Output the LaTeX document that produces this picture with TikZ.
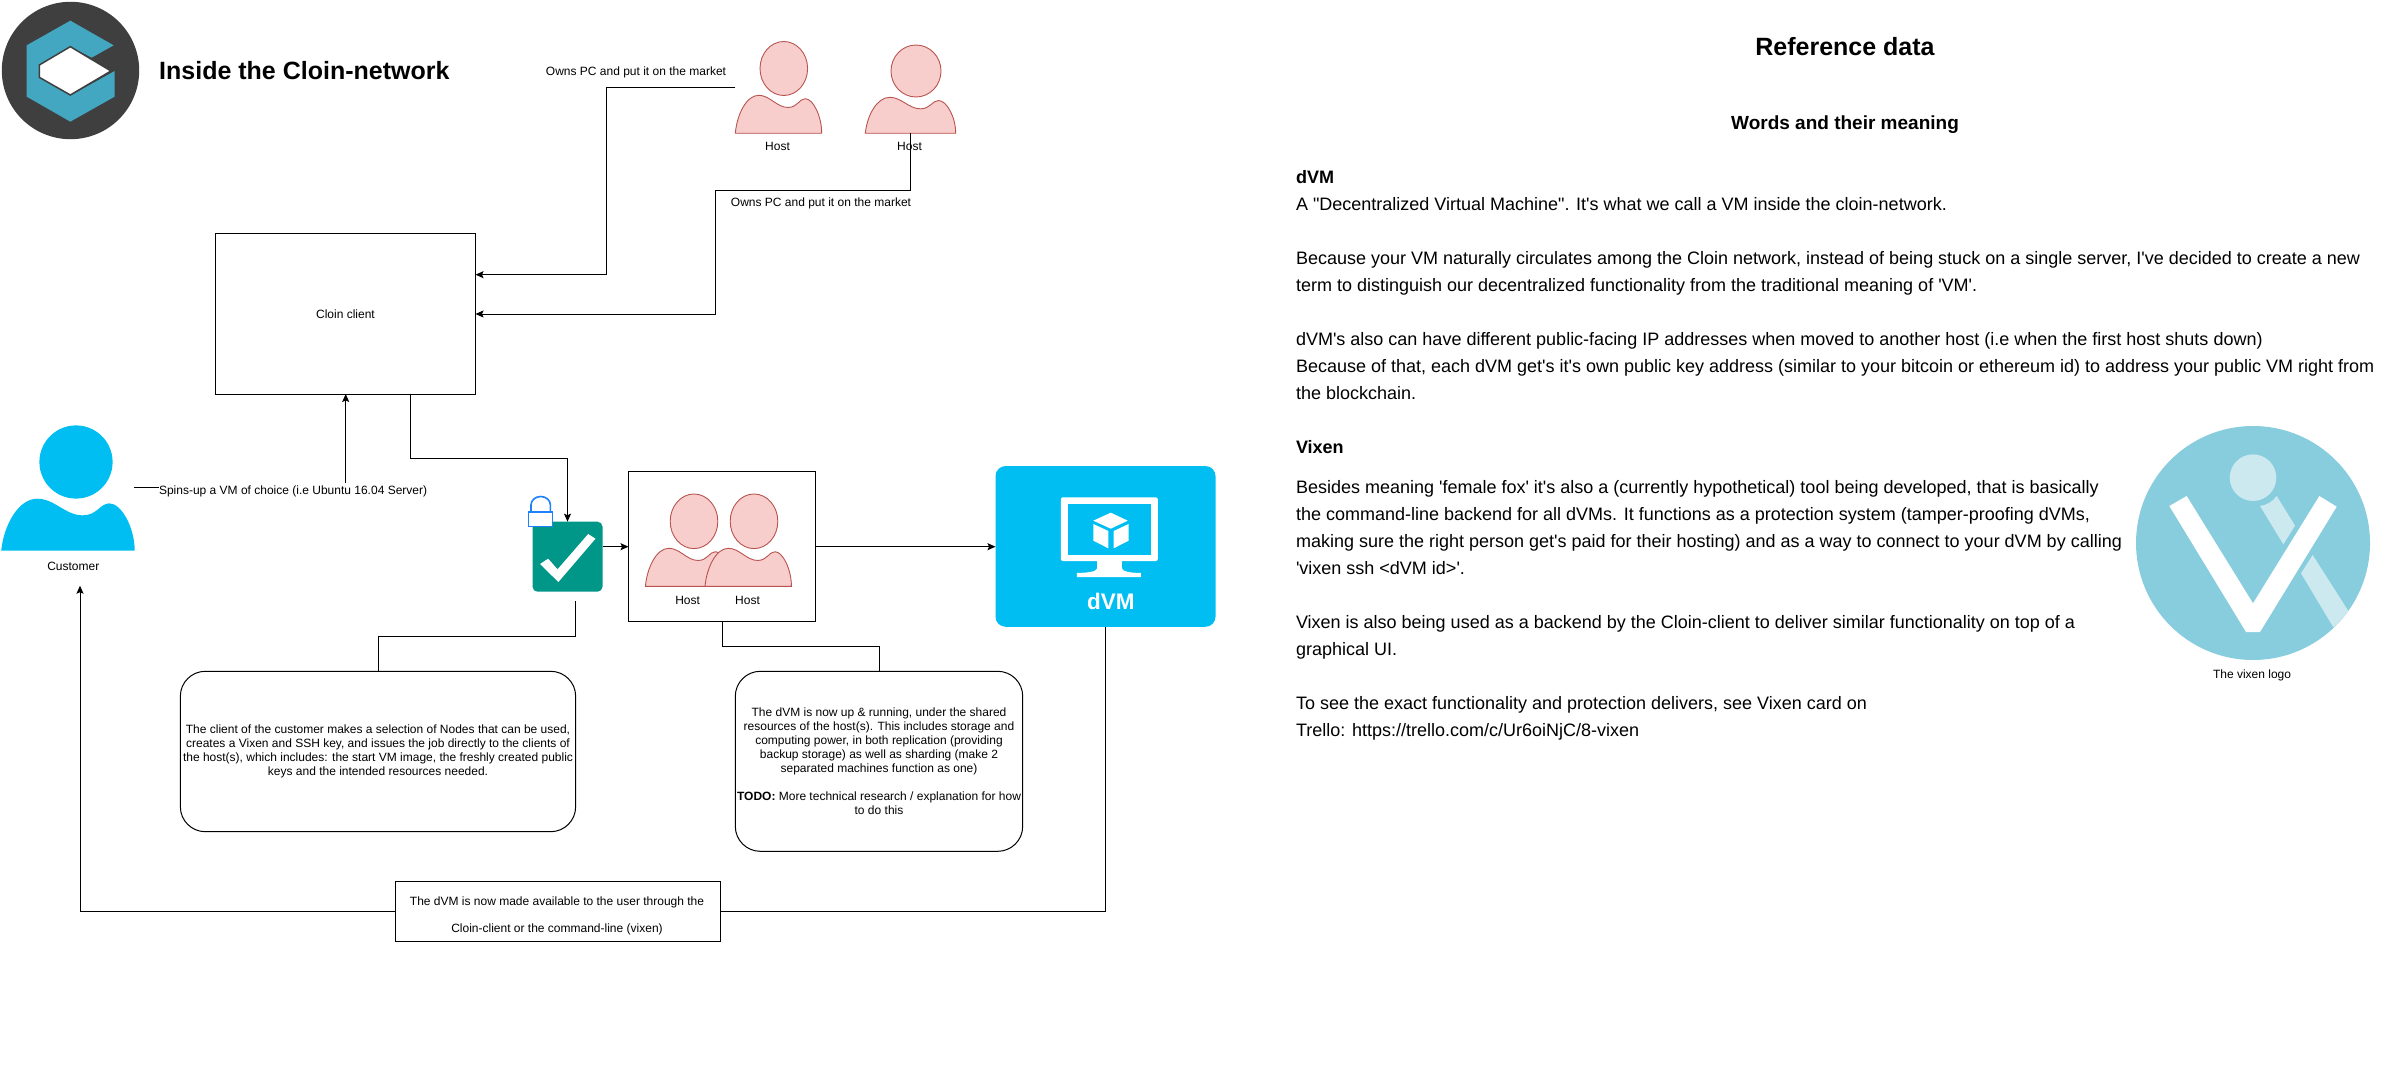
\documentclass[tikz,border=0pt]{standalone}
\usepackage{fontspec}
\setmainfont{Liberation Sans}[Ligatures=TeXOff]
\usetikzlibrary{arrows.meta}
\definecolor{dark}{HTML}{3F3F3F}
\definecolor{teal1}{HTML}{43A7C1}
\definecolor{rosefill}{HTML}{F8CECC}
\definecolor{rosedraw}{HTML}{B85450}
\definecolor{skyb}{HTML}{00BEF2}
\definecolor{greenb}{HTML}{009688}
\definecolor{lockb}{HTML}{1E82FF}
\definecolor{vix}{HTML}{88CDDE}
\definecolor{vixl}{HTML}{CDE9F0}
\newcommand{\smalltxt}{\fontsize{12}{14}\selectfont}
\newcommand{\bodytxt}{\fontsize{18}{27}\selectfont}
\newcommand{\personbody}[6]{%
 \begin{scope}[shift={(#1,#2)},x=#3pt,y=-#4pt]
 \path[#5] (0,1) .. controls (0.02,0.5) and (0.13,0) .. (0.27,0) .. controls (0.4,0) and (0.48,0.32) .. (0.61,0.32) .. controls (0.72,0.32) and (0.74,0.09) .. (0.81,0.09) .. controls (0.9,0.09) and (1,0.55) .. (1,1) -- cycle;
 \end{scope}}
\tikzset{
 x=1pt,y=-1pt,
 conn/.style={draw=black,line width=1pt,line join=miter},
 arr/.style={conn,-{Stealth[length=8pt,width=7pt,inset=1.5pt]}},
 rose/.style={fill=rosefill,draw=rosedraw,line width=0.9pt},
 sky/.style={fill=skyb,draw=none},
 holder/.style={inner sep=0,outer sep=0,minimum width=#1},
 boxn/.style={draw=black,line width=1pt,fill=white,inner sep=0,outer sep=0,align=center,font=\smalltxt},
 rbox/.style={boxn,rounded corners=25pt},
 lab/.style={inner sep=0,outer sep=0,anchor=base,yshift=-4pt,font=\smalltxt},
 bt/.style={inner sep=0,outer sep=0,anchor=base west,yshift=-6.5pt,font=\bodytxt},
 bth/.style={bt,font=\bodytxt\bfseries},
}
\begin{document}
\begin{tikzpicture}
\useasboundingbox (0,0) rectangle (2397,1083);
% ---- Cloin logo
\fill[dark] (70.5,70.5) circle[radius=68.7pt];
\begin{scope}[x=0.33333pt,y=-0.33333pt]
\fill[teal1] (211,62)--(341,136)--(275,173)--(211,140)--(117,195)--(117,232)--(211,287)--(344,213)--(344,290)--(211,365)--(80,290)--(80,136)--cycle;
\filldraw[fill=white,draw=dark,line width=1.5pt] (211,140)--(333,213)--(211,285)--(118,232)--(118,195)--cycle;
\end{scope}
\node[inner sep=0,anchor=base west,font=\fontsize{25}{30}\selectfont\bfseries] (title) at (159,79.5) {Inside the Cloin-network};
% ---- Top hosts
\node[holder=86.4pt,minimum height=38pt] (hostA) at (778.5,114.3) {};
\node[holder=90.4pt,minimum height=36pt] (hostB) at (910.5,115.3) {};
\personbody{735.3}{95.3}{86.4}{38}{rose}{}
\filldraw[rose] (783.8,68.5) ellipse[x radius=23.8pt,y radius=27pt];
\personbody{865.3}{97.3}{90.4}{36}{rose}{}
\filldraw[rose] (916,71) ellipse[x radius=25pt,y radius=26pt];
\node[lab] (hostAl) at (777.5,147) {Host};
\node[lab] (hostBl) at (909.5,147) {Host};
\node[lab] (ownsA) at (636,72) {Owns PC and put it on the market};
\node[lab] (ownsB) at (821,203) {Owns PC and put it on the market};
% ---- Client
\node[boxn,minimum width=260pt,minimum height=160pt] (client) at (345.5,314) {Cloin client};
% ---- Customer
\node[holder=133.5pt,minimum height=52pt] (cust) at (68,524.7) {};
\personbody{1.2}{498.7}{133.5}{52}{sky}{}
\fill[skyb] (76,462) ellipse[x radius=36.6pt,y radius=36.6pt];
\node[lab] (custl) at (73.3,566) {Customer};
\node[lab,anchor=base west] (spin) at (159,490) {Spins-up a VM of choice (i.e Ubuntu 16.04 Server)};
% ---- Green check
\node[fill=greenb,rounded corners=5pt,inner sep=0,outer sep=0,minimum width=70pt,minimum height=70pt] (check) at (567.5,556.7) {};
\begin{scope}[shift={(0,400)},x=0.40816pt,y=-0.33333pt]
\fill[white] (1323,492)--(1343,476)--(1366,508)--(1441,402)--(1459,416)--(1368,546)--cycle;
\end{scope}
\draw[lockb,line width=1.6pt] (531,512) -- (531,505) arc[start angle=180,end angle=0,x radius=9.7pt,y radius=8.5pt] -- (550.4,512);
\filldraw[draw=lockb,fill=white,line width=1.6pt] (528.3,511.8) rectangle (552.4,526.3);
% ---- Hosts box
\node[boxn,minimum width=187pt,minimum height=150pt] (hosts) at (722,546.7) {};
\personbody{645.4}{548.3}{86.4}{38}{rose}{}
\filldraw[rose] (694,521.3) ellipse[x radius=23.8pt,y radius=27.3pt];
\personbody{705}{548.3}{86.4}{38}{rose}{}
\filldraw[rose] (754,521.3) ellipse[x radius=23.8pt,y radius=27.3pt];
\node[lab] (hl1) at (687.6,600) {Host};
\node[lab] (hl2) at (747.5,600) {Host};
% ---- dVM
\node[fill=skyb,rounded corners=10pt,inner sep=0,outer sep=0,minimum width=220pt,minimum height=160.7pt] (dvm) at (1105.5,546.4) {};
\begin{scope}[shift={(500,450)},x=0.48473pt,y=-0.33333pt]
\fill[white,rounded corners=2pt] (1157,142) rectangle (1357,333);
\fill[skyb] (1172,162) rectangle (1342,315);
\fill[white] (1232,330)--(1283,330)--(1283,355) .. controls (1285,366) and (1300,368) .. (1322,369)--(1322,381)--(1190,381)--(1190,369) .. controls (1212,368) and (1230,366) .. (1232,355)--cycle;
\fill[white] (1260,188)--(1295,212)--(1260,236)--(1224,212)--cycle;
\fill[white] (1224,222)--(1255,243)--(1255,295)--(1224,272)--cycle;
\fill[white] (1297,222)--(1266,243)--(1266,295)--(1297,272)--cycle;
\end{scope}
\node[lab,yshift=-4pt,text=white,font=\fontsize{22.5}{26}\selectfont\bfseries] (dvml) at (1110.8,601.5) {dVM};
% ---- Text boxes
\node[rbox,minimum width=395.3pt,minimum height=160.4pt] (job) at (378,751.5) {The client of the customer makes a selection of Nodes that can be used,\\creates a Vixen and SSH key, and issues the job directly to the clients of\\the host(s), which includes: the start VM image, the freshly created public\\keys and the intended resources needed.};
\node[rbox,minimum width=287.4pt,minimum height=180pt] (run) at (879,761.3) {The dVM is now up \& running, under the shared\\resources of the host(s). This includes storage and\\computing power, in both replication (providing\\backup storage) as well as sharding (make 2\\separated machines function as one)\\[14pt]\textbf{TODO:} More technical research / explanation for how\\to do this};
\node[boxn,minimum width=325.3pt,minimum height=60pt] (avail) at (558.2,911.3) {};
\node[lab] (av1) at (557,901) {The dVM is now made available to the user through the};
\node[lab] (av2) at (557,928) {Cloin-client or the command-line (vixen)};
% ---- Connector helpers
\coordinate (custout) at (134,487.7);
\coordinate (spinin) at (159,487.7);
\coordinate (spinend) at (345.7,483);
\coordinate (hostAout) at (735.3,87.7);
\coordinate (hostAin) at (475.5,274.7);
\coordinate (custin) at (80,585.7);
\coordinate (checkout) at (575.5,601.3);
\coordinate (clientdown) at (410,394);
\coordinate (hostsdown) at (722.5,621.7);
% ---- Connectors
\draw[arr] (hostAout) -- (606,87.7) -- (606,274.7) -- (hostAin);
\draw[arr] (hostB.south) -- (910.5,191) -- (715,191) -- (715,314) -- (client.east);
\draw[conn] (custout) -- (spinin);
\draw[arr] (spinend) -- (client.south -| spinend);
\draw[arr] (clientdown) -- (410,458.3) -- (567.5,458.3) -- (check.north);
\draw[arr] (check.east |- hosts.west) -- (hosts.west);
\draw[arr] (hosts.east) -- (hosts.east -| dvm.west);
\draw[conn] (checkout) -- (575.5,636) -- (378,636) -- (job.north);
\draw[conn] (hostsdown) -- (722.5,646.3) -- (879,646.3) -- (run.north);
\draw[conn] (dvm.south) -- (1105.5,911.3) -- (avail.east);
\draw[arr] (avail.west) -- (80,911.3) -- (custin);
% ---- Right panel
\node[inner sep=0,anchor=base,font=\fontsize{25}{30}\selectfont\bfseries] (rd) at (1845,55.5) {Reference data};
\node[inner sep=0,anchor=base,font=\fontsize{19}{24}\selectfont\bfseries] (wm) at (1845,129.5) {Words and their meaning};
\node[bth] (l1) at (1296,177) {dVM};
\node[bt] (l2) at (1296,204) {A "Decentralized Virtual Machine". It's what we call a VM inside the cloin-network.};
\node[bt] (l3) at (1296,258) {Because your VM naturally circulates among the Cloin network, instead of being stuck on a single server, I've decided to create a new};
\node[bt] (l4) at (1296,285) {term to distinguish our decentralized functionality from the traditional meaning of 'VM'.};
\node[bt] (l5) at (1296,339) {dVM's also can have different public-facing IP addresses when moved to another host (i.e when the first host shuts down)};
\node[bt] (l6) at (1296,366) {Because of that, each dVM get's it's own public key address (similar to your bitcoin or ethereum id) to address your public VM right from};
\node[bt] (l7) at (1296,393) {the blockchain.};
\node[bth] (v0) at (1296,446.7) {Vixen};
\node[bt] (v1) at (1296,487) {Besides meaning 'female fox' it's also a (currently hypothetical) tool being developed, that is basically};
\node[bt] (v2) at (1296,514) {the command-line backend for all dVMs. It functions as a protection system (tamper-proofing dVMs,};
\node[bt] (v3) at (1296,541) {making sure the right person get's paid for their hosting) and as a way to connect to your dVM by calling};
\node[bt] (v4) at (1296,568) {'vixen ssh <dVM id>'.};
\node[bt] (v5) at (1296,622) {Vixen is also being used as a backend by the Cloin-client to deliver similar functionality on top of a};
\node[bt] (v6) at (1296,649) {graphical UI.};
\node[bt] (v7) at (1296,703) {To see the exact functionality and protection delivers, see Vixen card on};
\node[bt] (v8) at (1296,730) {Trello: https://trello.com/c/Ur6oiNjC/8-vixen};
% ---- Vixen logo
\fill[vix] (2253,543) circle[radius=117pt];
\begin{scope}[shift={(2100,410)},x=0.33333pt,y=-0.33333pt]
\fill[vixl] (459,203) circle[radius=23.3pt];
\fill[vixl] (480,288) .. controls (500,285) and (518,275) .. (530,258)--(585,347)--(550,403)--cycle;
\fill[vixl] (603,490)--(638,435)--(745,603) .. controls (732,622) and (717,638) .. (700,652)--cycle;
\fill[white] (208,288)--(260,258)--(459,580)--(658,258)--(710,290)--(480,666)--(438,666)--cycle;
\end{scope}
\node[lab] (vixl) at (2252,674) {The vixen logo};
\end{tikzpicture}
\end{document}
